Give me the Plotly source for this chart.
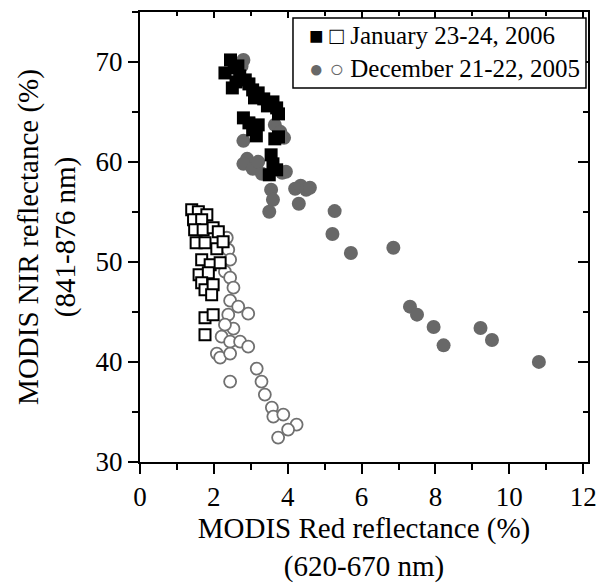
import plotly.graph_objects as go

# January 23-24, 2006 (filled squares)
jan_filled_x = [2.3, 2.45, 2.55, 2.65, 2.7, 2.5, 2.6, 2.85, 2.95, 3.05, 3.1, 3.2, 3.35, 3.45,
                3.6, 3.7, 3.75, 2.8, 2.95, 3.2, 3.05, 3.15, 3.65, 3.75, 3.55, 3.6, 3.7, 3.5]
jan_filled_y = [68.9, 70.2, 69.4, 69.6, 68.6, 67.4, 68.0, 68.2, 67.8, 67.2, 66.4, 66.9, 66.3, 65.6,
                66.0, 65.4, 64.8, 64.4, 63.9, 63.7, 63.2, 62.6, 62.3, 62.5, 60.7, 59.8, 59.2, 58.7]

# January 23-24, 2006 (open squares)
jan_open_x = [1.40, 1.58, 1.81, 1.45, 1.67, 1.48, 1.71, 1.98, 2.12, 1.52, 1.76, 2.08, 2.25,
              1.67, 1.90, 2.17, 1.60, 1.85, 1.67, 1.76, 1.98, 1.94, 1.76, 1.98, 1.76]
jan_open_y = [55.2, 55.0, 54.7, 54.2, 54.2, 53.2, 53.2, 53.4, 53.0, 51.9, 51.9, 51.3, 52.0,
              50.2, 49.7, 49.9, 48.7, 48.9, 47.9, 47.2, 47.7, 46.7, 44.4, 44.7, 42.7]

# December 21-22, 2005 (filled circles)
dec_filled_x = [2.8, 2.75, 3.65, 3.8, 3.9, 2.8, 2.9, 2.8, 3.05, 3.2, 3.3, 3.85, 3.95, 3.55, 3.6,
                3.5, 4.2, 4.35, 4.5, 4.6, 4.3, 5.27, 5.21, 5.71, 6.86, 7.31, 7.5, 7.95, 8.22,
                9.22, 9.53, 10.8]
dec_filled_y = [70.2, 69.6, 63.7, 63.0, 62.4, 62.1, 60.3, 59.8, 59.3, 60.0, 58.8, 58.9, 59.0, 57.2,
                56.2, 55.0, 57.3, 57.6, 57.2, 57.4, 55.8, 55.07, 52.77, 50.87, 51.4, 45.5, 44.7,
                43.47, 41.63, 43.37, 42.17, 39.97]

# December 21-22, 2005 (open circles)
dec_open_x = [2.35, 2.39, 2.44, 2.3, 2.44, 2.53, 2.44, 2.66, 2.93, 2.39, 2.53, 2.21, 2.44, 2.71,
              2.93, 2.08, 2.17, 2.44, 2.44, 3.16, 3.29, 3.38, 3.57, 3.61, 3.88, 4.24, 4.01, 3.74, 2.3]
dec_open_y = [52.4, 51.2, 50.2, 49.0, 48.4, 47.4, 46.1, 45.5, 44.8, 44.7, 43.3, 42.5, 42.0, 42.0,
              41.5, 40.8, 40.4, 40.8, 38.0, 39.3, 38.0, 36.7, 35.4, 34.5, 34.7, 33.7, 33.2, 32.4, 43.7]

legend_labels = ["January 23-24, 2006", "December 21-22, 2005"]
x_title = "MODIS Red reflectance (%)<br>(620-670 nm)"
y_title = "MODIS NIR reflectance (%)<br>(841-876 nm)"

X_RANGE = [0, 12.13]
Y_RANGE = [29.95, 75.0]
GRAY = "#686868"
FONT = "Liberation Serif, Times New Roman, serif"

fig = go.Figure()
fig.add_trace(go.Scatter(x=dec_filled_x, y=dec_filled_y, mode="markers",
                         marker=dict(symbol="circle", size=14, color=GRAY, line=dict(width=0)),
                         showlegend=False))
fig.add_trace(go.Scatter(x=dec_open_x, y=dec_open_y, mode="markers",
                         marker=dict(symbol="circle", size=12, color="white",
                                     line=dict(width=1.8, color="#707070")),
                         showlegend=False))
fig.add_trace(go.Scatter(x=jan_open_x, y=jan_open_y, mode="markers", xaxis="x2", yaxis="y2",
                         marker=dict(symbol="square", size=11, color="white",
                                     line=dict(width=2, color="black")),
                         showlegend=False))
fig.add_trace(go.Scatter(x=jan_filled_x, y=jan_filled_y, mode="markers", xaxis="x2", yaxis="y2",
                         marker=dict(symbol="square", size=13, color="black", line=dict(width=0)),
                         showlegend=False))

axis_common = dict(showgrid=False, zeroline=False, showline=True, linecolor="black", linewidth=2,
                   tickcolor="black", tickwidth=2, automargin=False)

fig.update_layout(
    width=598, height=587,
    margin=dict(l=140, r=10, t=12, b=125),
    paper_bgcolor="white", plot_bgcolor="white",
    font=dict(family=FONT, color="black"),
    xaxis=dict(range=X_RANGE, dtick=2, tick0=0, ticks="outside", ticklen=10,
               minor=dict(dtick=1, ticks="outside", ticklen=6, tickwidth=2, tickcolor="black"),
               tickfont=dict(size=27),
               title=dict(text=x_title, font=dict(size=29), standoff=4),
               **axis_common),
    yaxis=dict(range=Y_RANGE, dtick=10, tick0=0, ticks="outside", ticklen=10,
               minor=dict(dtick=5, ticks="outside", ticklen=6, tickwidth=2, tickcolor="black"),
               tickfont=dict(size=27),
               title=dict(text=y_title, font=dict(size=29), standoff=11),
               **axis_common),
    xaxis2=dict(range=X_RANGE, overlaying="x", side="top", dtick=2, tick0=0, ticks="inside",
                ticklen=6, showticklabels=False,
                minor=dict(dtick=1, ticks="inside", ticklen=4, tickwidth=2, tickcolor="black"),
                **axis_common),
    yaxis2=dict(range=Y_RANGE, overlaying="y", side="right", dtick=10, tick0=0, ticks="inside",
                ticklen=10, showticklabels=False,
                minor=dict(dtick=5, ticks="inside", ticklen=5, tickwidth=2, tickcolor="black"),
                **axis_common),
)

# legend box
fig.add_shape(type="rect", xref="paper", yref="paper",
              x0=0.3415, x1=0.9955, y0=0.831, y1=0.9867,
              line=dict(color="black", width=1.5), fillcolor="white", layer="above")

legend_text = (
    "<span style='font-size:24px'>■ □</span> "
    + legend_labels[0]
    + "<br><span style='font-size:24px;color:" + GRAY + "'>● ○</span> "
    + legend_labels[1]
)
fig.add_annotation(xref="paper", yref="paper", x=0.372, y=0.9110, xanchor="left",
                   yanchor="middle", align="left", showarrow=False, text=legend_text,
                   font=dict(size=25, family=FONT, color="black"))

fig.write_html("out.html", config={"displayModeBar": False},
               post_script="document.body.style.margin='0';document.body.style.overflow='hidden';")
